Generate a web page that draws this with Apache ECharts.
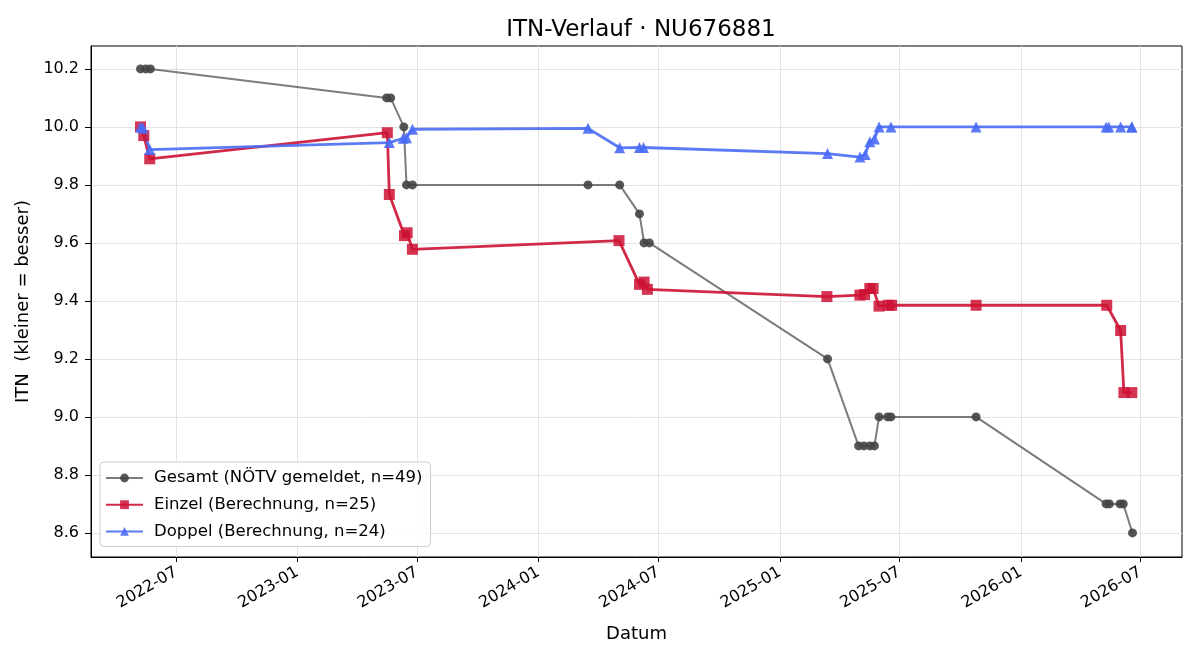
<!DOCTYPE html>
<html><head><meta charset="utf-8">
<script src="https://cdn.jsdelivr.net/npm/echarts@6/dist/echarts.min.js"></script>
<style>html,body{margin:0;padding:0;background:#fff}#c{width:1200px;height:660px}</style>
</head><body><div id="c"></div>
<script>
const gesamtDates = ['2022-05-08','2022-05-16','2022-05-23','2023-05-16','2023-05-22','2023-06-11','2023-06-15','2023-06-24','2024-03-16','2024-05-03','2024-06-02','2024-06-09','2024-06-17','2025-03-14','2025-04-30','2025-05-08','2025-05-17','2025-05-24','2025-05-31','2025-06-13','2025-06-18','2025-10-25','2026-05-10','2026-05-15','2026-05-31','2026-06-05','2026-06-19'];
const gesamtValues = [10.2,10.2,10.2,10.1,10.1,10.0,9.8,9.8,9.8,9.8,9.7,9.6,9.6,9.2,8.9,8.9,8.9,8.9,9.0,9.0,9.0,9.0,8.7,8.7,8.7,8.7,8.6];

const einzelDates = ['2022-05-08','2022-05-13','2022-05-22','2023-05-17','2023-05-20','2023-06-12','2023-06-16','2023-06-24','2024-05-02','2024-06-02','2024-06-09','2024-06-14','2025-03-13','2025-05-02','2025-05-09','2025-05-17','2025-05-22','2025-05-31','2025-06-14','2025-06-19','2025-10-25','2026-05-11','2026-06-01','2026-06-06','2026-06-18'];
const einzelValues = [10.0,9.97,9.89,9.98,9.767,9.625,9.635,9.578,9.608,9.457,9.465,9.44,9.415,9.42,9.422,9.443,9.443,9.382,9.385,9.385,9.385,9.385,9.298,9.084,9.084];

const doppelDates = ['2022-05-08','2022-05-12','2022-05-22','2023-05-20','2023-06-10','2023-06-15','2023-06-24','2024-03-16','2024-05-03','2024-06-02','2024-06-08','2025-03-14','2025-05-02','2025-05-10','2025-05-17','2025-05-24','2025-05-31','2025-06-18','2025-10-25','2026-05-10','2026-05-14','2026-06-01','2026-06-18','2026-06-18'];
const doppelValues = [10.0,9.995,9.922,9.946,9.961,9.963,9.992,9.995,9.928,9.929,9.929,9.908,9.896,9.905,9.949,9.958,10.0,10.0,10.0,10.0,10.0,10.0,10.0,10.0];

const seriesNames = ['Gesamt (NÖTV gemeldet, n=49)','Einzel (Berechnung, n=25)','Doppel (Berechnung, n=24)'];
const xTickLabels = ['2022-07','2023-01','2023-07','2024-01','2024-07','2025-01','2025-07','2026-01','2026-07'];
const yTickLabels = ['8.6','8.8','9.0','9.2','9.4','9.6','9.8','10.0','10.2'];
const xRange = ['2022-02-22','2026-09-02'];
const yRange = [8.517, 10.279];

function ts(s){const p=s.split('-').map(Number);return Date.UTC(p[0],p[1]-1,p[2]||1);}
function pairs(d,v){return d.map((x,i)=>[ts(x),v[i]]);}
const FONT='DejaVu Sans';

const chart = echarts.init(document.getElementById('c'), null, {renderer:'canvas'});
chart.setOption({
  animation:false,
  backgroundColor:'#fff',
  title:{text:'ITN-Verlauf · NU676881',left:636,top:14,textAlign:'center',
    textStyle:{fontFamily:FONT,fontSize:23,fontWeight:'normal',color:'#000'}},
  grid:{left:91,right:18,top:46,bottom:103,show:true,borderColor:'#000',borderWidth:1,backgroundColor:'transparent'},
  legend:{orient:'vertical',left:100,top:462,padding:[7,8,6,5],itemGap:8.7,itemWidth:37,itemHeight:11,
    backgroundColor:'rgba(255,255,255,0.85)',borderColor:'#cccccc',borderWidth:1,borderRadius:4,
    textStyle:{fontFamily:FONT,fontSize:16.5,lineHeight:18,color:'#000',padding:[0,0,0,6]},
    data:seriesNames},
  xAxis:{type:'value',min:ts(xRange[0]),max:ts(xRange[1]),
    name:'Datum',nameLocation:'middle',nameGap:68,nameTextStyle:{fontFamily:FONT,fontSize:18,color:'#000'},
    axisLine:{show:true,onZero:false,lineStyle:{color:'#000',width:1}},
    axisTick:{show:true,length:5,lineStyle:{color:'#000'},customValues:xTickLabels.map(s=>ts(s+'-01'))},
    axisLabel:{fontFamily:FONT,fontSize:16,color:'#000',rotate:30,margin:14,
      customValues:xTickLabels.map(s=>ts(s+'-01')),
      formatter:function(v){const d=new Date(v);return d.getUTCFullYear()+'-'+String(d.getUTCMonth()+1).padStart(2,'0');}},
    splitLine:{show:true,lineStyle:{color:'#e3e3e3',width:1}}},
  yAxis:{type:'value',min:yRange[0],max:yRange[1],
    name:'ITN  (kleiner = besser)',nameLocation:'middle',nameGap:56,nameTextStyle:{fontFamily:FONT,fontSize:18,color:'#000'},
    axisLine:{show:true,onZero:false,lineStyle:{color:'#000',width:1}},
    axisTick:{show:true,length:6,lineStyle:{color:'#000'},customValues:yTickLabels.map(Number)},
    axisLabel:{fontFamily:FONT,fontSize:16,color:'#000',margin:12,customValues:yTickLabels.map(Number),
      formatter:function(v){return v.toFixed(1);}},
    splitLine:{show:true,lineStyle:{color:'#e3e3e3',width:1}}},
  series:[
    {name:seriesNames[0],type:'line',data:pairs(gesamtDates,gesamtValues),symbol:'circle',symbolSize:9,
      color:'#444444',lineStyle:{width:2,color:'#444444',opacity:0.7},itemStyle:{color:'#444444',opacity:0.9}},
    {name:seriesNames[1],type:'line',data:pairs(einzelDates,einzelValues),symbol:'rect',symbolSize:11,
      color:'#cc1234',lineStyle:{width:2.8,color:'#cc1234',opacity:0.9},itemStyle:{color:'#cc1234',opacity:0.85}},
    {name:seriesNames[2],type:'line',data:pairs(doppelDates,doppelValues),symbol:'triangle',symbolSize:11,
      color:'#4a6cf5',lineStyle:{width:2.8,color:'#4a6cf5',opacity:0.9},itemStyle:{color:'#4a6cf5',opacity:0.9}}
  ]
});
</script></body></html>
